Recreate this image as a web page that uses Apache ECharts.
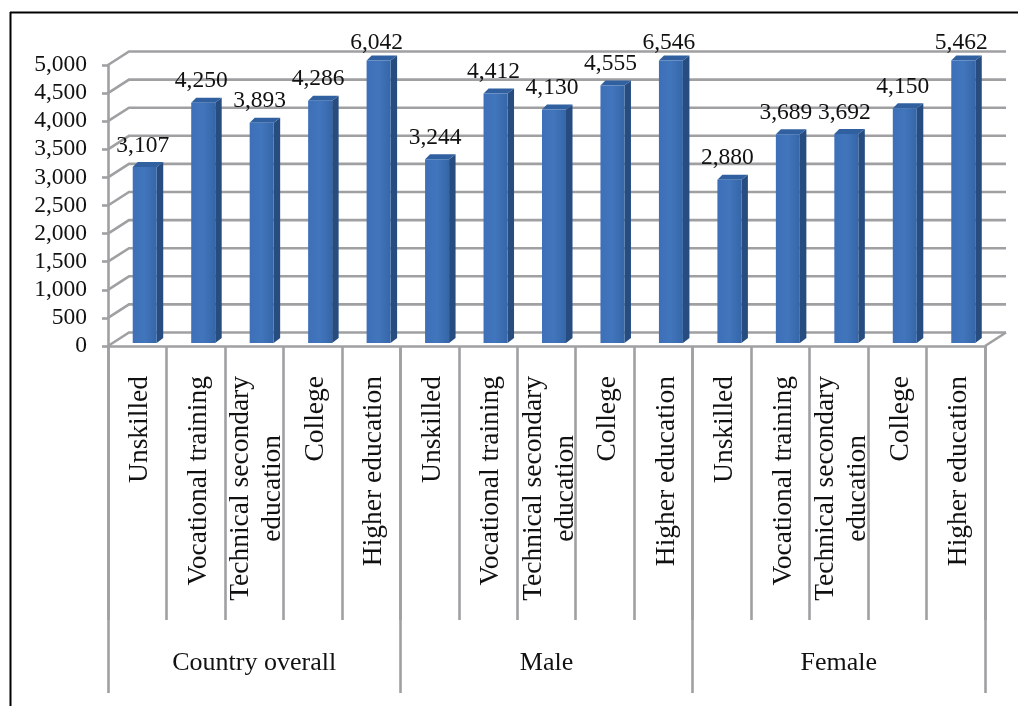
<!DOCTYPE html>
<html>
<head>
<meta charset="utf-8">
<style>html,body{margin:0;padding:0;background:#fff}#c{width:1018px;height:706px}</style>
<script src="https://cdn.jsdelivr.net/npm/echarts@6/dist/echarts.min.js"></script>
</head>
<body>
<div id="c"></div>
<script>
const levels = ['Unskilled','Vocational training','Technical secondary\neducation','College','Higher education'];
const groups = ['Country overall','Male','Female'];
const categories = [...levels, ...levels, ...levels];
const wages = [3107,4250,3893,4286,6042, 3244,4412,4130,4555,6546, 2880,3689,3692,4150,5462];
const yTicks = [0,500,1000,1500,2000,2500,3000,3500,4000,4500,5000];
const yMax = 5000;

const SERIF = '"Liberation Serif","Times New Roman",serif';
const GRID = '#a0a0a3';
const DX = 21, DY = -13.5;

const chart = echarts.init(document.getElementById('c'), null, {renderer:'canvas'});

function renderWall(params, api){
  const t = api.value(1);
  const p = api.coord([0,t]);
  const x0 = params.coordSys.x, x1 = x0 + params.coordSys.width, y = p[1];
  const children = [{type:'polyline', shape:{points:[[x0,y],[x0+DX,y+DY],[x1+DX,y+DY]]},
    style:{stroke:GRID, lineWidth:2.6, fill:null}}];
  if(t===0) children.push({type:'line', shape:{x1:x1,y1:y,x2:x1+DX,y2:y+DY}, style:{stroke:GRID,lineWidth:2.6}});
  return {type:'group', children};
}

function renderBar(params, api){
  const i = api.value(0), v = api.value(1);
  const capped = v > yMax;
  const c = api.coord([i,0]);
  const t = api.coord([i,Math.min(v,yMax)]);
  const xl = c[0]-4.5, xr = c[0]+19.5, xs = c[0]+26;
  const yb = c[1]-3, yt = t[1]-4.5, sh = 5;
  return {type:'group', children:[
    {type:'polygon', shape:{points:[[xr,yb],[xs,yb-sh],[xs,yt-sh],[xr,yt]]}, style:{fill:'#274d80'}},
    {type:'polygon', shape:{points:[[xl,yt],[xl+5,yt-sh],[xs,yt-sh],[xr,yt]]}, style:{fill:'#30609f'}},
    {type:'rect', shape:{x:xl,y:yt,width:xr-xl,height:yb-yt},
      style:{fill:new echarts.graphic.LinearGradient(0,0,1,0,[
        {offset:0,color:'#3d70b8'},{offset:.5,color:'#4175bc'},{offset:1,color:'#3566a8'}])}},
    {type:'text', x:c[0]+5.5, y:yt-sh-(capped?13:16.5),
      style:{text:echarts.format.addCommas(v), font:'23.5px '+SERIF, fill:'#111', align:'center', verticalAlign:'middle'}}
  ]};
}

chart.setOption({
  animation:false,
  backgroundColor:'#fff',
  grid:{left:108,right:33,top:65,bottom:360,containLabel:false},
  xAxis:[
    {type:'category',data:categories,position:'bottom',
     axisLine:{show:true,lineStyle:{color:GRID,width:2.6}},
     axisTick:{show:true,length:274,alignWithLabel:false,lineStyle:{color:GRID,width:2.6}},
     axisLabel:{interval:0,rotate:90,margin:30,hideOverlap:false,padding:[6,0,0,0],
       formatter:v=>v.split('\n').map(s=>'{c|'+s+'}').join('\n'),
       rich:{c:{fontFamily:SERIF,fontSize:27.5,lineHeight:32,color:'#111',align:'center'}}}},
    {type:'category',data:groups,position:'bottom',
     axisLine:{show:false},
     axisTick:{show:true,length:347,lineStyle:{color:GRID,width:2.6}},
     axisLabel:{interval:0,margin:304,fontFamily:SERIF,fontSize:26,color:'#111'}}
  ],
  yAxis:{type:'value',min:0,max:yMax,interval:500,
    axisLine:{show:true,lineStyle:{color:GRID,width:2.6}},
    axisTick:{show:true,length:6,lineStyle:{color:GRID,width:2.6}},
    axisLabel:{margin:21,fontFamily:SERIF,fontSize:23.5,color:'#111',padding:[4,0,0,0],
      formatter:v=>echarts.format.addCommas(v)},
    splitLine:{show:false}},
  series:[
    {type:'custom',name:'walls',xAxisIndex:0,z:1,silent:true,renderItem:renderWall,
     encode:{x:0,y:1},data:yTicks.map(t=>[0,t])},
    {type:'custom',name:'Wage',xAxisIndex:0,z:3,silent:true,renderItem:renderBar,
     encode:{x:0,y:1},data:wages.map((v,i)=>[i,v])}
  ],
  graphic:[
    {type:'line',shape:{x1:10.5,y1:12,x2:10.5,y2:706},style:{stroke:'#000',lineWidth:2}},
    {type:'line',shape:{x1:10,y1:12.5,x2:1018,y2:12.5},style:{stroke:'#000',lineWidth:2}}
  ]
});
</script>
</body>
</html>
